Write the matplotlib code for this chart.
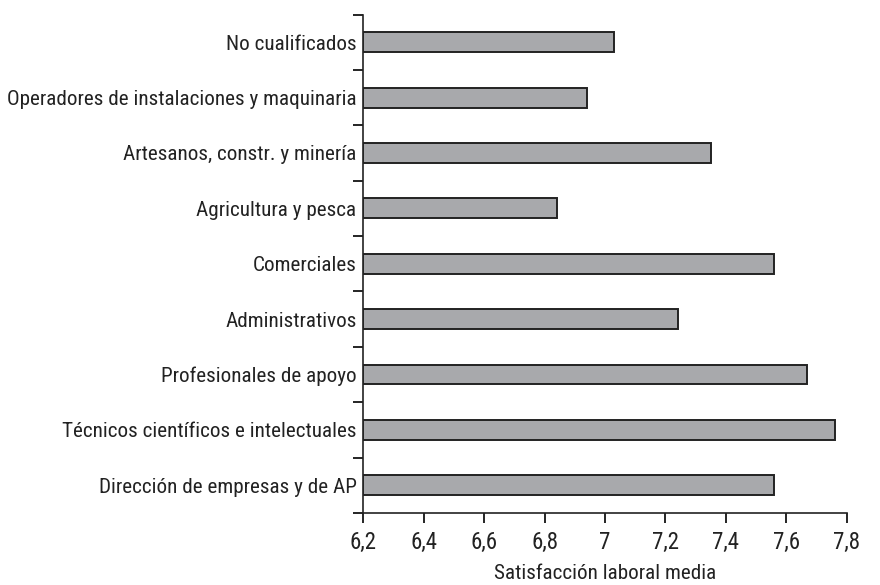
import numpy as np
import matplotlib
matplotlib.use('Agg')
import matplotlib.pyplot as plt
from matplotlib import font_manager as fm
from matplotlib.ticker import FuncFormatter

# Condensed sans-serif, like the original
available = set(f.name for f in fm.fontManager.ttflist)
if 'Roboto Condensed' in available:
    plt.rcParams['font.family'] = ['Roboto Condensed', 'DejaVu Sans']
    fs = 15.2
else:
    plt.rcParams['font.family'] = ['DejaVu Sans']
    plt.rcParams['font.stretch'] = 'condensed'
    fs = 11.8

# Data (bottom to top)
categories = [
    'Dirección de empresas y de AP',
    'Técnicos científicos e intelectuales',
    'Profesionales de apoyo',
    'Administrativos',
    'Comerciales',
    'Agricultura y pesca',
    'Artesanos, constr. y minería',
    'Operadores de instalaciones y maquinaria',
    'No cualificados',
]
satisfaction = [7.56, 7.76, 7.67, 7.24, 7.56, 6.84, 7.35, 6.94, 7.03]
x_ticks = [6.2, 6.4, 6.6, 6.8, 7.0, 7.2, 7.4, 7.6, 7.8]

fig = plt.figure(figsize=(8.8, 5.85), dpi=100)
ax = fig.add_axes([0.4129, 0.1231, 0.5493, 0.8521])

y = np.arange(len(categories))
base = 6.2
ax.barh(y, np.array(satisfaction) - base, left=base, height=0.36,
        color='#a8a9ac', edgecolor='#222222', linewidth=1.4, zorder=3)

ax.set_xlim(6.2, 7.8)
ax.set_ylim(-0.5, len(categories) - 0.5)

ax.set_xticks(x_ticks)
ax.xaxis.set_major_formatter(FuncFormatter(
    lambda v, p: ('%g' % round(v, 1)).replace('.', ',')))

# tick marks between categories, labels at centres
ax.set_yticks(np.arange(-0.5, len(categories)))
ax.set_yticklabels([])
ax.set_yticks(y, minor=True)
ax.set_yticklabels(categories, minor=True)
ax.tick_params(axis='y', which='minor', length=0, pad=5, labelsize=fs, labelcolor='#222222')
ax.tick_params(axis='y', which='major', length=7, width=1.2, direction='out')
ax.tick_params(axis='x', length=7, width=1.2, direction='out', pad=6,
               labelsize=fs + 1.3, labelcolor='#222222')

for s in ['top', 'right']:
    ax.spines[s].set_visible(False)
for s in ['left', 'bottom']:
    ax.spines[s].set_linewidth(1.2)
    ax.spines[s].set_color('#222222')

ax.set_xlabel('Satisfacción laboral media', fontsize=fs, labelpad=7, color='#222222')

fig.savefig('out.png', dpi=100)
